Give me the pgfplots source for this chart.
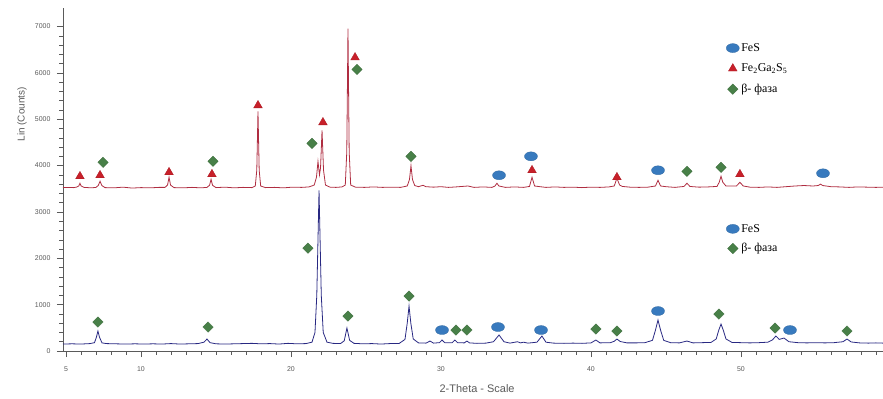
\documentclass[border=0pt]{standalone}
\usepackage{fontspec}
\setmainfont{Liberation Serif}
\newfontfamily\sansf{Liberation Sans}
\usepackage{pgfplots}
\pgfplotsset{compat=1.18}
\definecolor{redline}{RGB}{175,45,65}
\definecolor{blueline}{RGB}{40,40,130}
\definecolor{fesblue}{RGB}{56,122,190}
\definecolor{trired}{RGB}{200,32,42}
\definecolor{diagreen}{RGB}{72,128,72}
\definecolor{axgray}{RGB}{90,90,90}
\pgfplotsset{
  fesmark/.style={only marks, mark=*, mark size=4.5bp, mark options={xscale=1.45, fill=fesblue, draw=fesblue!85!black, line width=0.3pt}},
  trimark/.style={only marks, mark=triangle*, mark size=5bp, mark options={fill=trired, draw=trired!85!black, line width=0.3pt}},
  diamark/.style={only marks, mark=square*, mark size=3.7bp, mark options={rotate=45, fill=diagreen, draw=diagreen!85!black, line width=0.3pt}},
  base/.style={at={(0,0)}, anchor=south west, scale only axis, width=820bp, height=343bp,
    xmin=4.8, xmax=59.47, ymin=0, ymax=7400},
}
\begin{document}
\begin{tikzpicture}
\useasboundingbox (-63bp,-48bp) rectangle (820bp,351bp);
\begin{axis}[base,
  axis lines=left, axis line style={-, draw=axgray, line width=0.6pt},
  tick align=outside, major tick length=6bp, minor tick length=3.5bp,
  tick style={draw=axgray, line width=0.5pt},
  xtick={5,10,20,30,40,50}, minor xtick={6,7,...,59},
  ytick={0,1000,...,7000}, minor y tick num=4,
  /pgf/number format/assume math mode=true,
  /pgf/number format/1000 sep={},
  tick label style={font=\sansf\fontsize{7}{8}\selectfont, text=axgray},
  yticklabel style={xshift=-3bp},
  xticklabel style={yshift=-6bp},
  xlabel={2-Theta - Scale},
  xlabel style={at={(axis description cs:0.505,-0.111)}, anchor=center, font=\sansf\fontsize{11}{12}\selectfont, text=axgray},
  ylabel={Lin (Counts)},
  ylabel style={at={(axis description cs:-0.05,0.69)}, anchor=center, font=\sansf\fontsize{10}{12}\selectfont, text=axgray},
  legend style={draw=none, fill=none, at={(0.805,0.909)}, anchor=north west, font=\fontsize{12}{14}\selectfont, row sep=7bp},
  legend cell align=left,
]
\addplot[redline, line width=0.8pt, forget plot] coordinates {
(4.8,3530) (5.5,3525) (5.7,3535) (5.85,3560) (5.93,3619) (6.01,3560) (6.2,3530) (6.7,3520) (7.0,3530) (7.15,3570) (7.27,3662) (7.39,3570) (7.6,3525) (8.2,3520) (8.8,3535) (9.4,3515) (10.0,3525) (10.6,3520) (11.2,3530) (11.6,3530) (11.77,3580) (11.87,3748) (11.97,3580) (12.2,3525) (12.8,3520) (13.4,3530) (14.0,3520) (14.4,3530) (14.57,3575) (14.67,3705) (14.77,3575) (15.0,3525) (15.6,3535) (16.2,3520) (16.8,3530) (17.4,3525) (17.62,3560) (17.72,3900) (17.8,5169) (17.88,3900) (17.98,3560) (18.3,3525) (18.9,3530) (19.5,3520) (20.1,3535) (20.7,3530) (21.2,3540) (21.55,3580) (21.7,3750) (21.8,4092) (21.9,3800) (21.97,3950) (22.07,4760) (22.17,3900) (22.3,3580) (22.6,3535) (23.0,3530) (23.4,3540) (23.62,3580) (23.72,4300) (23.8,6957) (23.88,4300) (23.98,3580) (24.3,3535) (24.9,3530) (25.5,3540) (26.1,3530) (26.7,3535) (27.3,3530) (27.75,3560) (27.9,3700) (28.0,3998) (28.1,3700) (28.25,3570) (28.5,3545) (28.8,3575) (29.0,3545) (29.5,3535) (30.0,3545) (30.5,3530) (31.0,3540) (31.8,3560) (32.2,3530) (32.8,3540) (33.4,3530) (33.6,3560) (33.73,3619) (33.86,3560) (34.3,3530) (34.9,3540) (35.5,3530) (35.9,3550) (36.07,3748) (36.24,3560) (36.6,3545) (37.0,3530) (37.6,3540) (38.2,3530) (38.8,3535) (39.4,3525) (40.0,3535) (40.6,3530) (41.2,3540) (41.55,3560) (41.73,3726) (41.91,3580) (42.1,3550) (42.6,3535) (43.2,3530) (43.8,3535) (44.3,3560) (44.47,3683) (44.64,3560) (45.0,3545) (45.6,3530) (46.2,3550) (46.4,3619) (46.6,3550) (47.2,3535) (47.8,3540) (48.4,3550) (48.55,3640) (48.67,3770) (48.79,3640) (49.0,3560) (49.7,3560) (49.93,3640) (50.15,3560) (50.6,3535) (51.2,3530) (51.8,3540) (52.4,3530) (53.0,3545) (53.6,3560) (54.2,3570) (54.8,3560) (55.15,3570) (55.3,3600) (55.45,3570) (56.0,3545) (56.6,3540) (57.2,3530) (57.8,3540) (58.4,3535) (59.0,3530) (59.47,3535)
};
\addplot[blueline, line width=0.8pt, forget plot] coordinates {
(4.8,150) (5.4,155) (6.0,150) (6.6,160) (6.9,180) (7.03,300) (7.13,431) (7.23,300) (7.4,175) (7.7,160) (8.3,155) (9.0,150) (9.6,155) (10.2,150) (10.8,155) (11.4,150) (12.0,160) (12.6,150) (13.2,155) (13.8,160) (14.2,190) (14.4,258) (14.6,180) (15.0,155) (15.6,150) (16.2,155) (16.8,160) (17.4,165) (18.0,155) (18.6,160) (19.2,150) (19.8,165) (20.4,155) (21.0,160) (21.4,190) (21.6,400) (21.72,1200) (21.8,2400) (21.87,3467) (21.94,2400) (22.02,1200) (22.15,400) (22.4,190) (22.8,165) (23.3,160) (23.55,220) (23.73,495) (23.91,230) (24.2,165) (24.8,155) (25.4,160) (26.0,150) (26.6,160) (27.2,160) (27.6,250) (27.75,600) (27.87,969) (27.99,600) (28.15,260) (28.5,175) (29.0,170) (29.27,215) (29.5,170) (29.9,180) (30.07,237) (30.25,180) (30.75,180) (30.93,237) (31.1,180) (31.55,175) (31.73,215) (31.9,175) (32.4,165) (33.0,170) (33.5,200) (33.87,345) (34.2,200) (34.6,170) (35.1,200) (35.3,175) (35.5,190) (35.8,170) (36.4,190) (36.73,323) (37.0,190) (37.5,170) (38.2,165) (38.8,170) (39.4,165) (40.0,175) (40.33,237) (40.6,175) (41.3,180) (41.55,210) (41.73,258) (41.95,205) (42.4,175) (43.0,175) (43.6,180) (44.1,230) (44.3,450) (44.47,668) (44.64,450) (44.85,230) (45.3,180) (45.9,175) (46.4,215) (46.8,175) (47.4,180) (48.0,185) (48.35,260) (48.52,450) (48.67,581) (48.82,450) (49.0,260) (49.4,185) (50.0,180) (50.6,175) (51.2,180) (51.8,190) (52.1,240) (52.33,323) (52.55,250) (52.87,280) (53.2,200) (53.8,180) (54.4,175) (55.0,180) (55.6,175) (56.2,180) (56.8,200) (57.07,258) (57.35,195) (57.9,175) (58.5,170) (59.0,175) (59.47,170)
};
\addplot[fesmark] coordinates {(33.87,3791) (36.0,4200) (44.47,3899) (55.47,3834)};
\addlegendentry{FeS}
\addplot[trimark] coordinates {(5.93,3769) (7.27,3791) (11.87,3856) (14.73,3813) (17.8,5299) (22.13,4933) (24.27,6333) (36.07,3899) (41.73,3748) (49.93,3813)};
\addlegendentry{Fe\textsubscript{2}Ga\textsubscript{2}S\textsubscript{5}}
\addplot[diamark] coordinates {(7.47,4071) (14.8,4093) (21.4,4480) (24.4,6074) (28.0,4200) (46.4,3877) (48.67,3963)};
\addlegendentry{β- фаза}
\end{axis}
\begin{axis}[base, hide axis,
  legend style={draw=none, fill=none, at={(0.805,0.382)}, anchor=north west, font=\fontsize{12}{14}\selectfont, row sep=6bp},
  legend cell align=left,
]
\addplot[fesmark] coordinates {(30.07,452) (33.8,517) (36.67,452) (44.47,862) (53.27,452)};
\addlegendentry{FeS}
\addplot[diamark] coordinates {(7.13,625) (14.47,517) (21.13,2219) (23.8,754) (27.87,1185) (31.0,452) (31.73,452) (40.33,474) (41.73,431) (48.53,797) (52.27,495) (57.07,431)};
\addlegendentry{β- фаза}
\end{axis}
\end{tikzpicture}
\end{document}
